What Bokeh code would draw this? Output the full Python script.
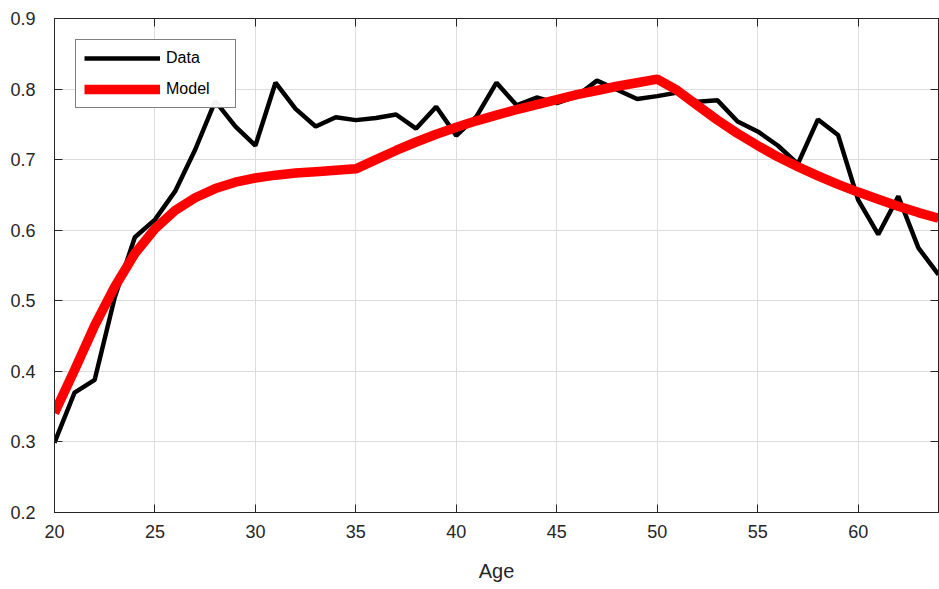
from bokeh.plotting import figure
from bokeh.models import LinearAxis, Range1d, FixedTicker, Legend, LegendItem
from bokeh.embed import file_html
from bokeh.resources import INLINE

# Age profile: observed data vs. fitted model
ages = list(range(20, 65))
data_vals = [0.299, 0.370, 0.388, 0.505, 0.590, 0.615, 0.655, 0.714, 0.783, 0.747,
             0.720, 0.809, 0.772, 0.747, 0.760, 0.756, 0.759, 0.764, 0.744, 0.775,
             0.734, 0.761, 0.809, 0.777, 0.788, 0.780, 0.790, 0.812, 0.799, 0.786,
             0.790, 0.795, 0.782, 0.784, 0.754, 0.740, 0.720, 0.694, 0.757, 0.735,
             0.643, 0.594, 0.648, 0.575, 0.537]
model_vals = [0.341, 0.402, 0.465, 0.520, 0.567, 0.602, 0.628, 0.646, 0.659, 0.668,
              0.674, 0.678, 0.681, 0.683, 0.685, 0.687, 0.700, 0.713, 0.725, 0.736,
              0.746, 0.755, 0.763, 0.771, 0.778, 0.785, 0.792, 0.798, 0.804, 0.809,
              0.814, 0.798, 0.777, 0.756, 0.737, 0.720, 0.704, 0.690, 0.677, 0.665,
              0.654, 0.644, 0.634, 0.625, 0.617]
x_ticks = [20, 25, 30, 35, 40, 45, 50, 55, 60]
y_ticks = [0.2, 0.3, 0.4, 0.5, 0.6, 0.7, 0.8, 0.9]

FONT = "Liberation Sans"
AX_COLOR = "#262626"

p = figure(width=939, height=589, output_backend="svg", toolbar_location=None,
           x_range=Range1d(20, 64), y_range=Range1d(0.2, 0.9),
           min_border_left=54, min_border_right=1, min_border_top=18, min_border_bottom=77)
p.outline_line_color = AX_COLOR
p.outline_line_width = 1

def style_axis(ax, ticks, labels=True):
    ax.ticker = FixedTicker(ticks=ticks)
    ax.axis_line_color = AX_COLOR
    ax.major_tick_line_color = AX_COLOR
    ax.major_tick_in = 8
    ax.major_tick_out = 0
    ax.minor_tick_line_color = None
    if labels:
        ax.major_label_text_font = FONT
        ax.major_label_text_font_size = "18px"
        ax.major_label_text_color = AX_COLOR
        ax.major_label_standoff = 12
    else:
        # tick marks only on the mirrored box sides
        ax.major_label_text_color = None
        ax.major_label_text_font_size = "1px"
        ax.major_label_standoff = 0

style_axis(p.xaxis[0], x_ticks)
style_axis(p.yaxis[0], y_ticks)
p.yaxis[0].major_label_standoff = 19
p.xaxis[0].axis_label = "Age"
p.xaxis[0].axis_label_text_font = FONT
p.xaxis[0].axis_label_text_font_size = "20px"
p.xaxis[0].axis_label_text_font_style = "normal"
p.xaxis[0].axis_label_text_color = AX_COLOR
p.xaxis[0].axis_label_standoff = 19

top = LinearAxis()
style_axis(top, x_ticks, labels=False)
p.add_layout(top, "above")
right = LinearAxis()
style_axis(right, y_ticks, labels=False)
p.add_layout(right, "right")

p.xgrid.ticker = FixedTicker(ticks=x_ticks)
p.ygrid.ticker = FixedTicker(ticks=y_ticks)
for g in (p.xgrid[0], p.ygrid[0]):
    g.grid_line_color = "#dcdcdc"
    g.grid_line_width = 1

r_data = p.line(ages, data_vals, line_color="black", line_width=4.5)
r_model = p.line(ages, model_vals, line_color="#ff0000", line_width=9.5)

legend = Legend(items=[LegendItem(label="Data", renderers=[r_data]),
                       LegendItem(label="Model", renderers=[r_model])],
                location="top_left", margin=21, padding=8, spacing=11,
                glyph_width=76, glyph_height=20, label_standoff=6, label_width=61,
                label_text_font=FONT, label_text_font_size="16px",
                label_text_color="black", border_line_color="black",
                border_line_width=1, background_fill_color="white")
p.add_layout(legend, "center")

open("out.html", "w").write(file_html(p, INLINE))
